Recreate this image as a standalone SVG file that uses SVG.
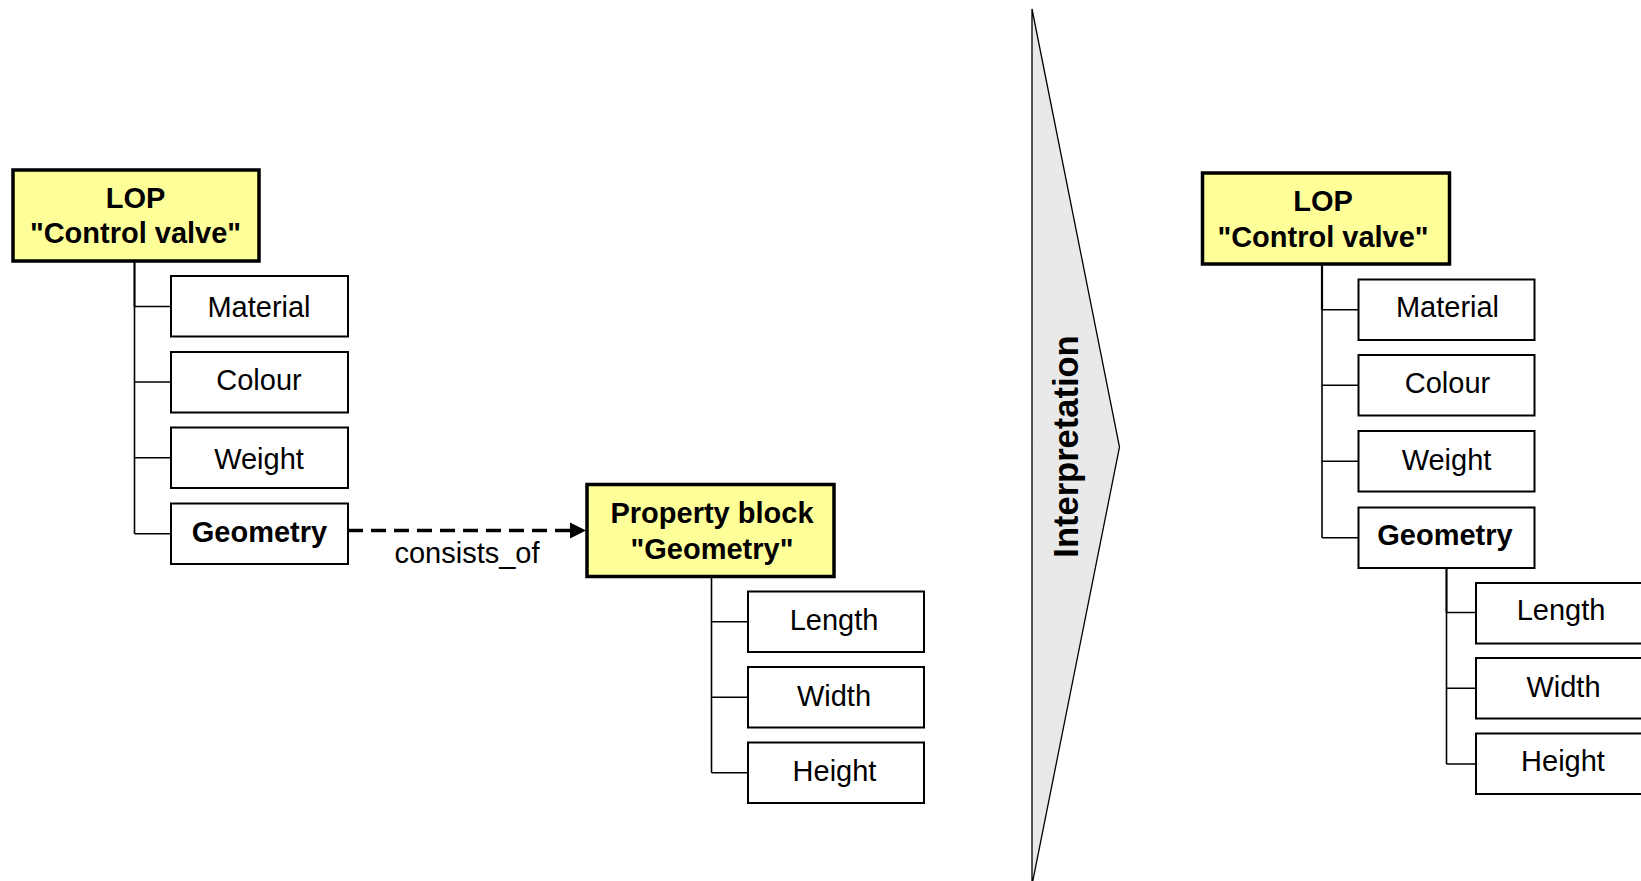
<svg xmlns="http://www.w3.org/2000/svg" width="1641" height="881" viewBox="0 0 1641 881">
  <style>
    .box { fill: #ffffff; stroke: #000; stroke-width: 2; }
    .main { fill: #ffff99; stroke: #000; stroke-width: 3.5; }
    .t { font-family: "Liberation Sans", Arial, sans-serif; font-size: 29px; fill: #000; text-anchor: middle; }
    .b { font-weight: bold; }
    .big { font-size: 34.5px; }
    .ln { fill: none; stroke: #000; stroke-width: 1.6; }
    .trunk { fill: none; stroke: #000; stroke-width: 2.2; }
    .dash { fill: none; stroke: #000; stroke-width: 3.5; stroke-dasharray: 15 8; }
  </style>
  <rect width="1641" height="881" fill="#ffffff"/>

  <!-- Interpretation arrow -->
  <g id="interpretation">
    <polygon points="1032,9 1119.5,447 1032,885" fill="#e9e9e9" stroke="#000" stroke-width="1.3"/>
    <text class="t b big" transform="translate(1078,446.5) rotate(-90)">Interpretation</text>
  </g>

  <g id="connectors">
    <!-- left LOP tree -->
    <path class="trunk" d="M134.5,261 V306.5"/>
    <path class="ln" d="M134.5,306 V533.7 M134.5,306.5 H171 M134.5,382 H171 M134.5,457.7 H171 M134.5,533.7 H171"/>
    <!-- consists_of -->
    <path class="dash" d="M348,530.5 H570"/>
    <polygon points="570,522.5 586,530.5 570,538.5" fill="#000"/>
    <!-- property block tree -->
    <path class="ln" d="M711.5,576.7 V772.7 M711.5,621.7 H748 M711.5,697.2 H748 M711.5,772.7 H748"/>
    <!-- right LOP tree -->
    <path class="trunk" d="M1322,264 V310"/>
    <path class="ln" d="M1322,309 V537.7 M1322,309.8 H1358.5 M1322,385.2 H1358.5 M1322,461.3 H1358.5 M1322,537.7 H1358.5"/>
    <!-- right geometry tree -->
    <path class="trunk" d="M1446.5,568 V612.5"/>
    <path class="ln" d="M1446.5,612 V764 M1446.5,612.5 H1476 M1446.5,688.3 H1476 M1446.5,764 H1476"/>
  </g>

  <text class="t" x="467" y="563">consists_of</text>

  <!-- Left side -->
  <g id="lop-left">
    <rect class="main" x="13" y="170" width="246" height="91"/>
    <text class="t b" x="135.5" y="208">LOP</text>
    <text class="t b" x="135.5" y="243">"Control valve"</text>
  </g>
  <g id="material-left">
    <rect class="box" x="171" y="276" width="177" height="60.5"/>
    <text class="t" x="259" y="317">Material</text>
  </g>
  <g id="colour-left">
    <rect class="box" x="171" y="352" width="177" height="60.5"/>
    <text class="t" x="259" y="390">Colour</text>
  </g>
  <g id="weight-left">
    <rect class="box" x="171" y="427.5" width="177" height="60.5"/>
    <text class="t" x="259" y="469">Weight</text>
  </g>
  <g id="geometry-left">
    <rect class="box" x="171" y="503.5" width="177" height="60.5"/>
    <text class="t b" x="259.5" y="542">Geometry</text>
  </g>

  <g id="property-block">
    <rect class="main" x="587" y="484.5" width="247" height="92"/>
    <text class="t b" x="712" y="523">Property block</text>
    <text class="t b" x="712" y="558.5">"Geometry"</text>
  </g>
  <g id="length-left">
    <rect class="box" x="748" y="591.5" width="176" height="60.5"/>
    <text class="t" x="834" y="630">Length</text>
  </g>
  <g id="width-left">
    <rect class="box" x="748" y="667" width="176" height="60.5"/>
    <text class="t" x="834" y="705.5">Width</text>
  </g>
  <g id="height-left">
    <rect class="box" x="748" y="742.5" width="176" height="60.5"/>
    <text class="t" x="834.5" y="781">Height</text>
  </g>

  <!-- Right side -->
  <g id="lop-right">
    <rect class="main" x="1202.5" y="173" width="247" height="91"/>
    <text class="t b" x="1323" y="211">LOP</text>
    <text class="t b" x="1323" y="247">"Control valve"</text>
  </g>
  <g id="material-right">
    <rect class="box" x="1358.5" y="279.5" width="176" height="60.5"/>
    <text class="t" x="1447.5" y="317">Material</text>
  </g>
  <g id="colour-right">
    <rect class="box" x="1358.5" y="355" width="176" height="60.5"/>
    <text class="t" x="1447.5" y="393">Colour</text>
  </g>
  <g id="weight-right">
    <rect class="box" x="1358.5" y="431" width="176" height="60.5"/>
    <text class="t" x="1446.5" y="470">Weight</text>
  </g>
  <g id="geometry-right">
    <rect class="box" x="1358.5" y="507.5" width="176" height="60.5"/>
    <text class="t b" x="1445" y="545">Geometry</text>
  </g>
  <g id="length-right">
    <rect class="box" x="1476" y="583" width="177" height="60.5"/>
    <text class="t" x="1561" y="620">Length</text>
  </g>
  <g id="width-right">
    <rect class="box" x="1476" y="658" width="177" height="60.5"/>
    <text class="t" x="1563.5" y="697">Width</text>
  </g>
  <g id="height-right">
    <rect class="box" x="1476" y="733.5" width="177" height="60.5"/>
    <text class="t" x="1563" y="771">Height</text>
  </g>
</svg>
